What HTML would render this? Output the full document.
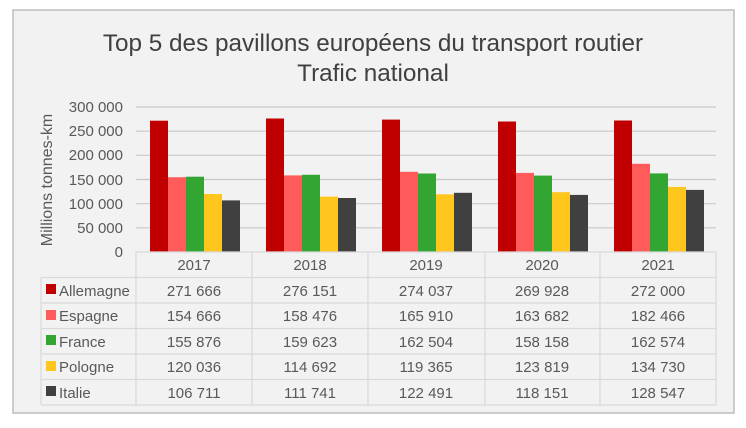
<!DOCTYPE html>
<html><head><meta charset="utf-8"><style>
body{margin:0;background:#fff;}
svg{display:block;font-family:"Liberation Sans","DejaVu Sans",sans-serif;}
</style></head><body>
<svg width="746" height="428" viewBox="0 0 746 428" xmlns="http://www.w3.org/2000/svg">
<rect x="13" y="10" width="721" height="403" fill="#f2f2f2" stroke="#bdbdbd" stroke-width="1.5"/>
<text x="373" y="51" text-anchor="middle" font-size="24.3" fill="#404040">Top 5 des pavillons européens du transport routier</text>
<text x="373" y="81" text-anchor="middle" font-size="24.3" fill="#404040">Trafic national</text>
<g stroke="#c8c8c8" stroke-width="1.2">
<line x1="136" y1="107" x2="716" y2="107"/>
<line x1="136" y1="131.2" x2="716" y2="131.2"/>
<line x1="136" y1="155.3" x2="716" y2="155.3"/>
<line x1="136" y1="179.5" x2="716" y2="179.5"/>
<line x1="136" y1="203.7" x2="716" y2="203.7"/>
<line x1="136" y1="227.8" x2="716" y2="227.8"/>
</g>
<g font-size="15" fill="#595959" text-anchor="end">
<text x="123" y="112">300 000</text>
<text x="123" y="136">250 000</text>
<text x="123" y="160">200 000</text>
<text x="123" y="185">150 000</text>
<text x="123" y="209">100 000</text>
<text x="123" y="233">50 000</text>
<text x="123" y="257">0</text>
</g>
<text transform="translate(52,180) rotate(-90)" text-anchor="middle" font-size="16" fill="#595959">Millions tonnes-km</text>
<g fill="#c00000">
<rect x="150" y="120.7" width="18" height="131.3"/><rect x="266" y="118.5" width="18" height="133.5"/><rect x="382" y="119.6" width="18" height="132.4"/><rect x="498" y="121.5" width="18" height="130.5"/><rect x="614" y="120.5" width="18" height="131.5"/>
</g>
<g fill="#ff5b5b">
<rect x="168" y="177.2" width="18" height="74.8"/><rect x="284" y="175.4" width="18" height="76.6"/><rect x="400" y="171.8" width="18" height="80.2"/><rect x="516" y="172.9" width="18" height="79.1"/><rect x="632" y="163.8" width="18" height="88.2"/>
</g>
<g fill="#33a532">
<rect x="186" y="176.7" width="18" height="75.3"/><rect x="302" y="174.8" width="18" height="77.2"/><rect x="418" y="173.5" width="18" height="78.5"/><rect x="534" y="175.6" width="18" height="76.4"/><rect x="650" y="173.4" width="18" height="78.6"/>
</g>
<g fill="#ffc61e">
<rect x="204" y="194" width="18" height="58"/><rect x="320" y="196.6" width="18" height="55.4"/><rect x="436" y="194.3" width="18" height="57.7"/><rect x="552" y="192.2" width="18" height="59.8"/><rect x="668" y="186.9" width="18" height="65.1"/>
</g>
<g fill="#404040">
<rect x="222" y="200.4" width="18" height="51.6"/><rect x="338" y="198" width="18" height="54"/><rect x="454" y="192.8" width="18" height="59.2"/><rect x="570" y="194.9" width="18" height="57.1"/><rect x="686" y="189.9" width="18" height="62.1"/>
</g>
<g stroke="#d9d9d9" stroke-width="1.2" fill="none">
<line x1="136" y1="252" x2="716" y2="252"/>
<line x1="41" y1="277.5" x2="716" y2="277.5"/>
<line x1="41" y1="303" x2="716" y2="303"/>
<line x1="41" y1="328.5" x2="716" y2="328.5"/>
<line x1="41" y1="354" x2="716" y2="354"/>
<line x1="41" y1="379.5" x2="716" y2="379.5"/>
<line x1="41" y1="405" x2="716" y2="405"/>
<line x1="41" y1="277.5" x2="41" y2="405"/>
<line x1="136" y1="252" x2="136" y2="405"/>
<line x1="252" y1="252" x2="252" y2="405"/>
<line x1="368" y1="252" x2="368" y2="405"/>
<line x1="485" y1="252" x2="485" y2="405"/>
<line x1="600" y1="252" x2="600" y2="405"/>
<line x1="716" y1="252" x2="716" y2="405"/>
</g>
<g font-size="15" fill="#595959" text-anchor="middle">
<text x="194" y="270">2017</text><text x="310" y="270">2018</text><text x="426" y="270">2019</text><text x="542" y="270">2020</text><text x="658" y="270">2021</text>
<text x="194" y="296">271 666</text><text x="310" y="296">276 151</text><text x="426" y="296">274 037</text><text x="542" y="296">269 928</text><text x="658" y="296">272 000</text>
<text x="194" y="321">154 666</text><text x="310" y="321">158 476</text><text x="426" y="321">165 910</text><text x="542" y="321">163 682</text><text x="658" y="321">182 466</text>
<text x="194" y="347">155 876</text><text x="310" y="347">159 623</text><text x="426" y="347">162 504</text><text x="542" y="347">158 158</text><text x="658" y="347">162 574</text>
<text x="194" y="372">120 036</text><text x="310" y="372">114 692</text><text x="426" y="372">119 365</text><text x="542" y="372">123 819</text><text x="658" y="372">134 730</text>
<text x="194" y="398">106 711</text><text x="310" y="398">111 741</text><text x="426" y="398">122 491</text><text x="542" y="398">118 151</text><text x="658" y="398">128 547</text>
</g>
<rect x="46" y="284" width="10" height="10" fill="#c00000"/>
<rect x="46" y="310" width="10" height="10" fill="#ff5b5b"/>
<rect x="46" y="335" width="10" height="10" fill="#33a532"/>
<rect x="46" y="361" width="10" height="10" fill="#ffc61e"/>
<rect x="46" y="386" width="10" height="10" fill="#404040"/>
<g font-size="15" fill="#595959">
<text x="59" y="296">Allemagne</text>
<text x="59" y="321">Espagne</text>
<text x="59" y="347">France</text>
<text x="59" y="372">Pologne</text>
<text x="59" y="398">Italie</text>
</g>
</svg>
</body></html>
